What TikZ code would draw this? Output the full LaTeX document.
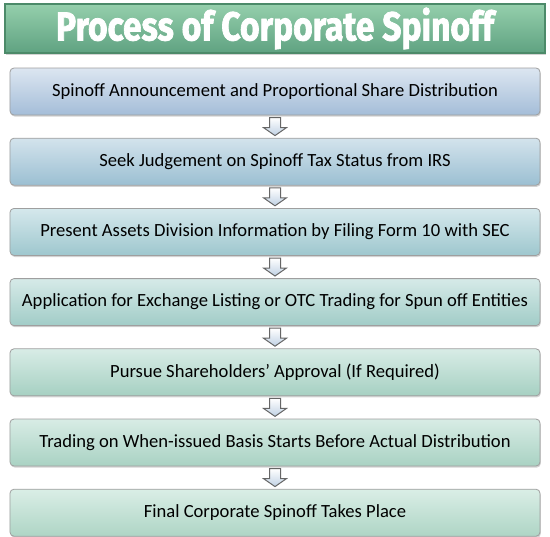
\documentclass[tikz,border=0pt]{standalone}
\usepackage{fontspec}
\setmainfont{Carlito}
\newfontfamily\titlefont[FakeBold=2]{Fira Sans}
\usepackage{tikz}
\usetikzlibrary{shapes,arrows}
\usetikzlibrary{positioning}
\usetikzlibrary{shadows}
\usetikzlibrary{calc}
\definecolor{topA}{HTML}{DCE6F1}\definecolor{botA}{HTML}{A4BDD8}
\definecolor{topB}{HTML}{D3E3EC}\definecolor{botB}{HTML}{9BBFD2}
\definecolor{topC}{HTML}{D5E8EC}\definecolor{botC}{HTML}{9EC7CE}
\definecolor{topD}{HTML}{D6EAE8}\definecolor{botD}{HTML}{A1CCC7}
\definecolor{topE}{HTML}{D8ECE6}\definecolor{botE}{HTML}{A6D0C2}
\definecolor{topF}{HTML}{D8ECE5}\definecolor{botF}{HTML}{A9D2C3}
\definecolor{topG}{HTML}{DAEEE6}\definecolor{botG}{HTML}{AED5C5}
\definecolor{titlegreen}{HTML}{5FA281}
\definecolor{titlelight}{HTML}{95CFAC}
\definecolor{titleedge}{HTML}{4C8A69}
\tikzstyle{stepbox} = [draw=gray!75, rounded corners=2pt, minimum width=265pt,
minimum height=23.5pt, inner sep=0pt, font=\fontsize{9.3}{11}\selectfont,
text=black, drop shadow={shadow xshift=0.4pt, shadow yshift=-0.8pt, opacity=0.35}]
\tikzstyle{downarrow} = [draw=black!60, line width=0.5pt, line join=miter,
top color=white, bottom color=botA!70]

\begin{document}
\begin{tikzpicture}[auto,
	titlebox/.style={draw=titleedge, minimum width=270pt, minimum height=24.5pt,
		inner sep=0pt, top color=titlelight, bottom color=titlegreen, line width=0.6pt,
		drop shadow={shadow xshift=0.4pt, shadow yshift=-0.8pt, opacity=0.35}},
	stepshade/.style 2 args={top color=#1, bottom color=#2}]
	\useasboundingbox (-137.5pt,14.25pt) rectangle (137.5pt,-253.75pt);
	\node [titlebox] (T) {\titlefont\bfseries\fontsize{16.8}{17}\selectfont
		\color{white}\scalebox{1}[1.2]{Process of Corporate Spinoff}};
	\node [stepbox, below=7pt of T, stepshade={topA}{botA}] (S1)
		{Spinoff Announcement and Proportional Share Distribution};
	\node [stepbox, below=11.2pt of S1, stepshade={topB}{botB}] (S2)
		{Seek Judgement on Spinoff Tax Status from IRS};
	\node [stepbox, below=11.2pt of S2, stepshade={topC}{botC}] (S3)
		{Present Assets Division Information by Filing Form 10 with SEC};
	\node [stepbox, below=11.2pt of S3, stepshade={topD}{botD}] (S4)
		{Application for Exchange Listing or OTC Trading for Spun off Entities};
	\node [stepbox, below=11.2pt of S4, stepshade={topE}{botE}] (S5)
		{Pursue Shareholders’ Approval (If Required)};
	\node [stepbox, below=11.2pt of S5, stepshade={topF}{botF}] (S6)
		{Trading on When-issued Basis Starts Before Actual Distribution};
	\node [stepbox, below=11.2pt of S6, stepshade={topG}{botG}] (S7)
		{Final Corporate Spinoff Takes Place};
	%% Flows
	\foreach \a/\b in {S1/S2,S2/S3,S3/S4,S4/S5,S5/S6,S6/S7} {
		\coordinate (M\a) at ($(\a.south)!0.5!(\b.north)$);
		\path [downarrow, shift={(M\a)}] (-2.75pt,4.5pt) -- (2.75pt,4.5pt)
			-- (2.75pt,-0.5pt) -- (5.75pt,-0.5pt) -- (0pt,-4.5pt)
			-- (-5.75pt,-0.5pt) -- (-2.75pt,-0.5pt) -- cycle;
	}
\end{tikzpicture}
\end{document}
